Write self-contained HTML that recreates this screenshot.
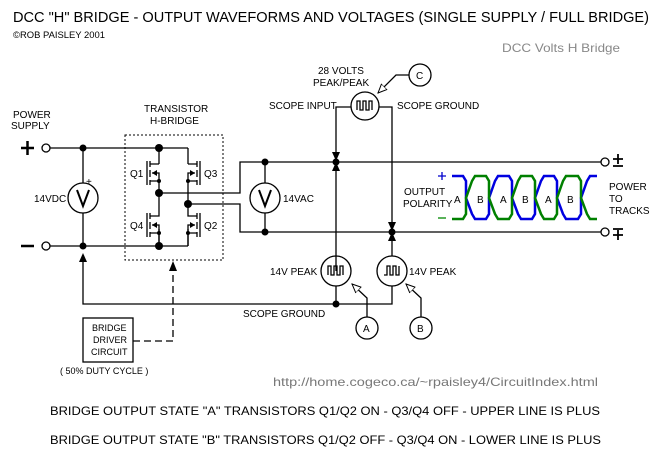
<!DOCTYPE html>
<html><head><meta charset="utf-8"><style>
html,body{margin:0;padding:0;background:#fff;}
svg{display:block;font-family:"Liberation Sans",sans-serif;}
text{fill:#000;}
</style></head><body>
<svg width="664" height="458" viewBox="0 0 664 458" xmlns="http://www.w3.org/2000/svg">
<defs>
<marker id="oh" markerWidth="10" markerHeight="10" refX="9" refY="5" orient="auto" markerUnits="userSpaceOnUse"><path d="M0,1 L9,5 L0,9 z" fill="#fff" stroke="#000" stroke-width="1"/></marker>
</defs>
<text x="13" y="22" font-size="14.5" textLength="636" lengthAdjust="spacingAndGlyphs">DCC "H" BRIDGE - OUTPUT WAVEFORMS AND VOLTAGES  (SINGLE SUPPLY / FULL BRIDGE)</text>
<text x="13" y="38" font-size="9" textLength="92" lengthAdjust="spacingAndGlyphs">©ROB PAISLEY 2001</text>
<text x="502" y="52" font-size="12" style="fill:#888" textLength="118" lengthAdjust="spacingAndGlyphs">DCC Volts H Bridge</text>

<g stroke="#000" stroke-width="1.3" fill="none">
<line x1="50" y1="148" x2="188" y2="148"/>
<line x1="188" y1="148" x2="188" y2="164"/>
<line x1="50" y1="246" x2="188" y2="246"/>
<line x1="188" y1="246" x2="188" y2="229"/>
<line x1="159" y1="148" x2="159" y2="164"/>
<line x1="159" y1="246" x2="159" y2="229"/>
<line x1="83" y1="148" x2="83" y2="183"/>
<line x1="83" y1="213" x2="83" y2="246"/>
<circle cx="83" cy="198" r="15"/>
<path d="M159,164 H150 M150,181 H159 V192 M147,161 V185 M150,161 V167 M150,170 V177 M150,180 V185 M152,173 H159 V181"/>
<path d="M159,192 V216 H150 M150,233 H159 V246 M147,213 V237 M150,213 V219 M150,222 V229 M150,232 V237 M152,225 H159 V233"/>
<path d="M188,164 H197 M197,181 H188 V203 M200,161 V185 M197,161 V167 M197,170 V177 M197,180 V185 M195,173 H188 V181"/>
<path d="M188,203 V216 H197 M197,233 H188 V246 M200,213 V237 M197,213 V219 M197,222 V229 M197,232 V237 M195,225 H188 V233"/>
<path d="M159,193 H240 V162 H601"/>
<path d="M188,204 H240 V232 H601"/>
<line x1="265" y1="162" x2="265" y2="183"/>
<line x1="265" y1="213" x2="265" y2="232"/>
<circle cx="265" cy="198" r="15"/>
<path d="M336,271 V107 H351"/>
<path d="M392,256 V107 H379"/>
<circle cx="365" cy="106" r="14"/>
<circle cx="336" cy="271" r="15"/>
<circle cx="392" cy="271" r="15"/>
<path d="M83,255 V304 H392 V286"/>
<line x1="336" y1="286" x2="336" y2="304"/>
<circle cx="367" cy="328" r="11"/>
<circle cx="421" cy="328" r="11"/>
<circle cx="420" cy="75" r="11"/>
<path d="M367,317 V298 L352,284" marker-end="url(#oh)"/>
<path d="M421,317 V298 L406,284" marker-end="url(#oh)"/>
<path d="M409,75 H396 L378,93" marker-end="url(#oh)"/>
<circle cx="46" cy="148" r="4" fill="#fff"/>
<circle cx="46" cy="246" r="4" fill="#fff"/>
<circle cx="605" cy="162" r="4" fill="#fff"/>
<circle cx="605" cy="232" r="4" fill="#fff"/>
<rect x="83" y="318" width="50" height="44"/>
<path d="M133,341 H173 V265" stroke-dasharray="7,4"/>
<rect x="125" y="135" width="98" height="125" stroke-dasharray="2,2" stroke-width="1"/>
<path d="M21,148 H34 M27.5,141 V155 M21,246 H34" stroke-width="2.5"/>
<path d="M613,159 H623 M618,154 V164 M613,166 H623 M613,229 H623 M613,235 H623 M618,230 V240" stroke-width="1.8"/>
</g>
<g fill="#000">
<path d="M79,262 L87,262 L83,253 z"/>
<path d="M169,271 L177,271 L173,261 z"/>
<path d="M332,152 L340,152 L336,161 z"/><path d="M332,171 L340,171 L336,162 z"/>
<path d="M388,222 L396,222 L392,231 z"/><path d="M388,241 L396,241 L392,232 z"/>
<circle cx="83" cy="148" r="3.5"/><circle cx="83" cy="246" r="3.5"/>
<circle cx="159" cy="148" r="4"/><circle cx="159" cy="193" r="4"/><circle cx="188" cy="204" r="4"/><circle cx="159" cy="246" r="4"/>
<circle cx="159" cy="181" r="2"/><circle cx="188" cy="181" r="2"/><circle cx="159" cy="233" r="2"/><circle cx="188" cy="233" r="2"/>
<path d="M152,173 L157,170 L157,176 z"/><path d="M152,225 L157,222 L157,228 z"/>
<path d="M195,173 L190,170 L190,176 z"/><path d="M195,225 L190,222 L190,228 z"/>
<circle cx="265" cy="162" r="3.5"/><circle cx="265" cy="232" r="3.5"/>
<circle cx="336" cy="162" r="3.5"/><circle cx="392" cy="232" r="3.5"/><circle cx="336" cy="304" r="3.5"/>
</g>
<g stroke="#000" stroke-width="2" fill="none">
<path d="M77,190 L83,206 L89,190"/>
<path d="M259,190 L265,206 L271,190"/>
<path d="M357,110 V101 H360 V110 H363 V101 H366 V110 H369 V101 H372 V110" stroke-width="1.3"/>
<path d="M328,275 V266 H331 V275 H334 V266 H337 V275 H340 V266 H343 V275" stroke-width="1.3"/>
<path d="M384,275 H387 V266 H390 V275 H393 V266 H396 V275 H399 V266" stroke-width="1.3"/>
</g>
<path d="M452,176 H463 L466,181 V198 L472,214 L475,219 H486 L489,214 V198 L495,181 L498,176 H509 L512,181 V198 L518,214 L521,219 H532 L535,214 V198 L541,181 L544,176 H554 L557,181 V198 L563,214 L566,219 H578 L581,214 V198 L587,181 L590,176 H597" stroke="#0000e0" stroke-width="2.5" fill="none"/>
<path d="M452,219 H463 L466,214 V198 L472,181 L475,176 H486 L489,181 V198 L495,214 L498,219 H509 L512,214 V198 L518,181 L521,176 H532 L535,181 V198 L541,214 L544,219 H554 L557,214 V198 L563,181 L566,176 H578 L581,181 V198 L587,214 L590,219 H597" stroke="#008000" stroke-width="2.5" fill="none"/>
<path d="M438,176 H446 M442,172 V180" stroke="#00c" stroke-width="1.3"/>
<path d="M438,218 H446" stroke="#080" stroke-width="1.3"/>
<g font-size="10">
<text x="454" y="203">A</text><text x="477" y="203">B</text><text x="500" y="203">A</text><text x="522" y="203">B</text><text x="545" y="203">A</text><text x="567" y="203">B</text>
<text x="13" y="118">POWER</text><text x="11" y="129">SUPPLY</text>
<text x="144" y="112">TRANSISTOR</text><text x="150" y="124">H-BRIDGE</text>
<text x="130" y="177">Q1</text><text x="204" y="177">Q3</text>
<text x="130" y="229">Q4</text><text x="204" y="229">Q2</text>
<text x="86" y="185">+</text>
<text x="34" y="202">14VDC</text>
<text x="283" y="202">14VAC</text>
<text x="318" y="74">28 VOLTS</text><text x="313" y="86">PEAK/PEAK</text>
<text x="269" y="109">SCOPE INPUT</text><text x="397" y="109">SCOPE GROUND</text>
<text x="404" y="195">OUTPUT</text><text x="403" y="207">POLARITY</text>
<text x="609" y="190">POWER</text><text x="609" y="202">TO</text><text x="609" y="214">TRACKS</text>
<text x="270" y="275">14V PEAK</text><text x="409" y="275">14V PEAK</text>
<text x="243" y="317">SCOPE GROUND</text>
<text x="363" y="332">A</text><text x="417" y="332">B</text><text x="416" y="79">C</text>
<text x="92" y="331" font-size="9">BRIDGE</text><text x="93" y="343" font-size="9">DRIVER</text><text x="91" y="355" font-size="9">CIRCUIT</text>
<text x="60" y="374" font-size="9">( 50% DUTY CYCLE )</text>
</g>
<text x="273" y="386" font-size="12" style="fill:#777" textLength="325" lengthAdjust="spacingAndGlyphs">http://home.cogeco.ca/~rpaisley4/CircuitIndex.html</text>
<text x="50" y="415" font-size="12" textLength="550" lengthAdjust="spacingAndGlyphs">BRIDGE OUTPUT STATE  "A"  TRANSISTORS Q1/Q2 ON - Q3/Q4 OFF  -  UPPER LINE IS PLUS</text>
<text x="50" y="444" font-size="12" textLength="551" lengthAdjust="spacingAndGlyphs">BRIDGE OUTPUT STATE  "B"  TRANSISTORS Q1/Q2 OFF - Q3/Q4 ON  -  LOWER LINE IS PLUS</text>
</svg>
</body></html>
